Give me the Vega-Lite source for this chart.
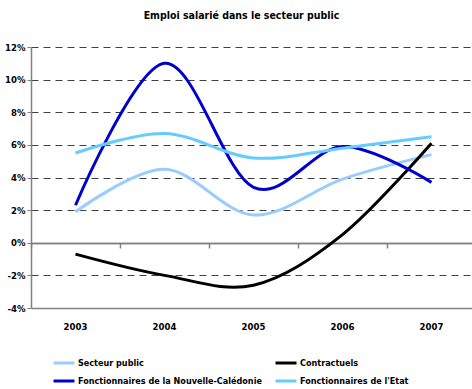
{
  "$schema": "https://vega.github.io/schema/vega-lite/v6.json",
  "width": 445,
  "height": 261,
  "autosize": {"type": "none"},
  "padding": {"left": 31, "top": 47, "right": 0, "bottom": 81},
  "background": "white",
  "title": {
    "text": "Emploi salarié dans le secteur public",
    "font": "DejaVu Sans Condensed, Liberation Sans Narrow, sans-serif",
    "fontSize": 10.5,
    "fontWeight": "bold",
    "color": "black",
    "anchor": "middle",
    "dx": -12,
    "offset": 21
  },
  "data": {
    "values": [
      {"year": "2003", "series": "Secteur public", "value": 1.9},
      {"year": "2004", "series": "Secteur public", "value": 4.5},
      {"year": "2005", "series": "Secteur public", "value": 1.7},
      {"year": "2006", "series": "Secteur public", "value": 3.9},
      {"year": "2007", "series": "Secteur public", "value": 5.4},
      {"year": "2003", "series": "Contractuels", "value": -0.7},
      {"year": "2004", "series": "Contractuels", "value": -2.0},
      {"year": "2005", "series": "Contractuels", "value": -2.6},
      {"year": "2006", "series": "Contractuels", "value": 0.5},
      {"year": "2007", "series": "Contractuels", "value": 6.1},
      {"year": "2003", "series": "Fonctionnaires de la Nouvelle-Calédonie", "value": 2.3},
      {"year": "2004", "series": "Fonctionnaires de la Nouvelle-Calédonie", "value": 11.0},
      {"year": "2005", "series": "Fonctionnaires de la Nouvelle-Calédonie", "value": 3.4},
      {"year": "2006", "series": "Fonctionnaires de la Nouvelle-Calédonie", "value": 5.9},
      {"year": "2007", "series": "Fonctionnaires de la Nouvelle-Calédonie", "value": 3.7},
      {"year": "2003", "series": "Fonctionnaires de l'Etat", "value": 5.5},
      {"year": "2004", "series": "Fonctionnaires de l'Etat", "value": 6.7},
      {"year": "2005", "series": "Fonctionnaires de l'Etat", "value": 5.2},
      {"year": "2006", "series": "Fonctionnaires de l'Etat", "value": 5.8},
      {"year": "2007", "series": "Fonctionnaires de l'Etat", "value": 6.5}
    ]
  },
  "mark": {"type": "line", "interpolate": "cardinal", "strokeWidth": 3},
  "encoding": {
    "x": {
      "field": "year",
      "type": "ordinal",
      "scale": {"type": "band", "paddingInner": 0, "paddingOuter": 0},
      "axis": {
        "title": null,
        "orient": "bottom",
        "offset": -65,
        "labelAngle": 0,
        "domain": true,
        "domainColor": "#808080",
        "domainWidth": 1.5,
        "ticks": true,
        "tickColor": "#808080",
        "tickWidth": 1.5,
        "tickSize": 5,
        "bandPosition": 0,
        "labelPadding": 73,
        "labelFont": "DejaVu Sans Condensed, Liberation Sans Narrow, sans-serif",
        "labelFontSize": 9.5,
        "labelFontWeight": "bold",
        "labelColor": "black",
        "grid": false
      }
    },
    "y": {
      "field": "value",
      "type": "quantitative",
      "scale": {"domain": [-4, 12], "nice": false, "zero": false},
      "axis": {
        "title": null,
        "values": [-4, -2, 0, 2, 4, 6, 8, 10, 12],
        "labelExpr": "datum.value + '%'",
        "grid": true,
        "gridColor": {"condition": {"test": "datum.value === 0 || datum.value === -4", "value": "#808080"}, "value": "#404040"},
        "gridDash": {"condition": {"test": "datum.value === 0 || datum.value === -4", "value": []}, "value": [7, 5]},
        "gridWidth": {"condition": {"test": "datum.value === 0 || datum.value === -4", "value": 1.5}, "value": 1},
        "domainColor": "#808080",
        "domainWidth": 1.5,
        "tickColor": "#808080",
        "tickSize": 4,
        "labelPadding": 2,
        "labelFont": "DejaVu Sans Condensed, Liberation Sans Narrow, sans-serif",
        "labelFontSize": 9.5,
        "labelFontWeight": "bold",
        "labelColor": "black"
      }
    },
    "color": {
      "field": "series",
      "type": "nominal",
      "scale": {
        "domain": ["Secteur public", "Fonctionnaires de la Nouvelle-Calédonie", "Contractuels", "Fonctionnaires de l'Etat"],
        "range": ["#99CCFF", "#0000CC", "#000000", "#66CCFF"]
      },
      "legend": {
        "title": null,
        "orient": "none",
        "legendX": 21,
        "legendY": 304,
        "columns": 2,
        "columnPadding": 7,
        "rowPadding": 0,
        "symbolType": "stroke",
        "symbolSize": 441,
        "symbolStrokeWidth": 3,
        "labelOffset": 2,
        "labelLimit": 300,
        "labelFont": "DejaVu Sans Condensed, Liberation Sans Narrow, sans-serif",
        "labelFontSize": 9,
        "labelFontWeight": "bold",
        "labelColor": "black"
      }
    }
  },
  "config": {"view": {"stroke": null}}
}
